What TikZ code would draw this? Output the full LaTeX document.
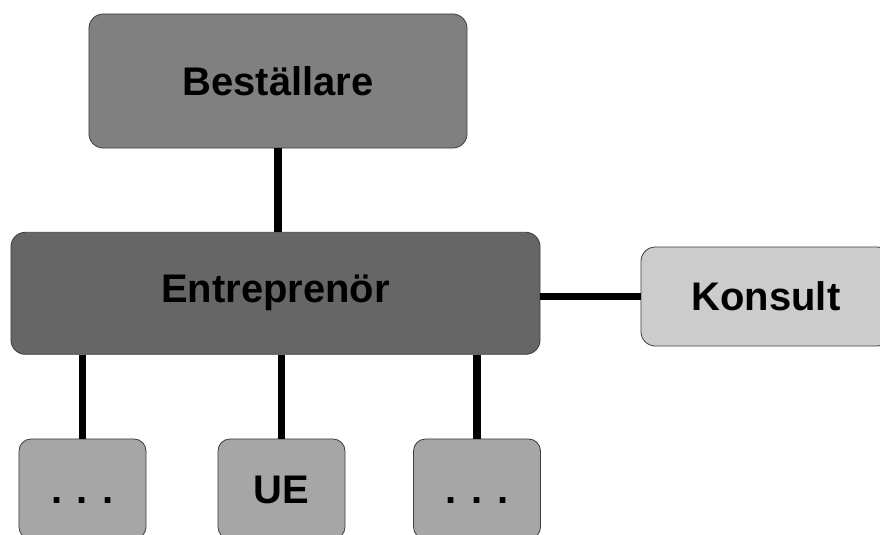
\documentclass[tikz,border=0pt]{standalone}
\usepackage{fontspec}
\setmainfont{Liberation Sans}
\usetikzlibrary{positioning}

\tikzset{
	box/.style={draw=black!75, line width=0.6pt, rounded corners=0.36cm,
		font=\fontsize{28.4}{33}\selectfont\bfseries, text=black, inner sep=0pt},
	tie/.style={line width=5.2pt, black}
}

\begin{document}
\begin{tikzpicture}[x=0.025cm, y=-0.025cm]
	\path[use as bounding box, clip] (0,0) rectangle (880,534);
	\node[box, fill=black!50, minimum width=9.45cm, minimum height=3.35cm]
		(best) at (278,81) {Beställare};
	\node[box, fill=black!60, minimum width=13.225cm, minimum height=3.05cm]
		(entr) at (275.5,293.3) {Entreprenör};
	\node[box, fill=black!20, minimum width=6.25cm, minimum height=2.475cm]
		(kons) at (766,296.5) {Konsult};
	\begin{scope}[every node/.style={box, fill=black!35, rounded corners=0.3cm,
			minimum width=3.175cm, minimum height=2.5cm,
			text height=20.3pt, text depth=0pt}]
		\node (ue1) at (82.5,489) {. . .};
		\node (ue2) at (281.5,489) {UE};
		\node (ue3) at (477,489) {. . .};
	\end{scope}
	\draw[tie] (best) -- (best |- entr.north);
	\draw[tie] (entr.east |- kons) -- (kons);
	\foreach \u in {ue1, ue2, ue3}
		\draw[tie] (entr.south -| \u.north) -- (\u.north);
\end{tikzpicture}
\end{document}
